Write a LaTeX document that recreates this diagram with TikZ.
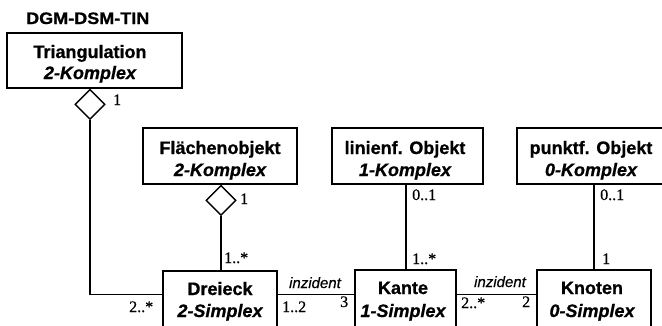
\documentclass[tikz,border=0pt]{standalone}
\usepackage{fontspec}
\usepackage{graphicx}
\setmainfont{Liberation Serif}
\newfontfamily\hv{Liberation Sans}[BoldFeatures={FakeBold=0.8},BoldItalicFeatures={FakeBold=0.8},ItalicFeatures={FakeBold=0.4}]
\newfontfamily\mul{Liberation Serif}[FakeBold=0.6]
\usetikzlibrary{shapes.geometric}
\tikzset{
  umlbox/.style={draw, line width=1.4pt, inner sep=0pt},
  agg/.style={diamond, draw, line width=1.3pt, fill=white, inner sep=0pt, minimum width=30pt, minimum height=30pt, aspect=1},
  conn/.style={line width=1.3pt},
  bname/.style={font=\hv\bfseries\fontsize{18}{20}\selectfont, anchor=base, inner sep=0pt},
  bsub/.style={font=\hv\bfseries\itshape\fontsize{18}{20}\selectfont, anchor=base, inner sep=0pt},
  mult/.style={font=\mul\fontsize{16}{17}\selectfont, anchor=base west, inner sep=0pt},
  rolel/.style={font=\hv\itshape\fontsize{15}{16}\selectfont, anchor=base, inner sep=0pt},
}
\begin{document}
\begin{tikzpicture}[x=1pt,y=-1pt]
\useasboundingbox (0,0) rectangle (662,325);
\clip (0,0) rectangle (662,325);
\fill[white] (0,0) rectangle (662,325);

% title
\node[font=\hv\bfseries\fontsize{17.5}{19}\selectfont, anchor=base west, inner sep=0pt] (title) at (26,24) {\scalebox{1.03}[0.95]{DGM-DSM-TIN}};

% boxes
\node[umlbox, minimum width=175pt, minimum height=55pt] (tri) at (94.5,60.5) {};
\node[umlbox, minimum width=154pt, minimum height=56pt] (fla) at (220,156) {};
\node[umlbox, minimum width=151pt, minimum height=56pt] (lin) at (407.5,156) {};
\node[umlbox, minimum width=150pt, minimum height=56pt] (pun) at (592,156) {};
\node[umlbox, minimum width=114pt, minimum height=80pt] (dre) at (220,311) {};
\node[umlbox, minimum width=101pt, minimum height=80pt] (kan) at (405.5,310) {};
\node[umlbox, minimum width=114pt, minimum height=80pt] (kno) at (594,310) {};

% box texts
\node[bname] (t1a) at (90,58) {Triangulation};
\node[bsub]  (t1b) at (90,79) {2-Komplex};
\node[bname] (t2a) at (220,154) {Flächenobjekt};
\node[bsub]  (t2b) at (220,176) {2-Komplex};
\node[bname] (t3a) at (405,154) {linienf. Objekt};
\node[bsub]  (t3b) at (405,176) {1-Komplex};
\node[bname] (t4a) at (591,154) {punktf. Objekt};
\node[bsub]  (t4b) at (591,176) {0-Komplex};
\node[bname] (t5a) at (220,295) {Dreieck};
\node[bsub]  (t5b) at (220,317) {2-Simplex};
\node[bname] (t6a) at (403,294) {Kante};
\node[bsub]  (t6b) at (403,317) {1-Simplex};
\node[bname] (t7a) at (592,294) {Knoten};
\node[bsub]  (t7b) at (592,317) {0-Simplex};

% aggregation diamonds
\node[agg, anchor=north] (d1) at (tri.south -| 90,0) {};
\node[agg, anchor=north] (d2) at (fla.south -| 221,0) {};

% connectors
\draw[conn] (d1.south) |- ([yshift=-24pt]dre.north west);
\draw[conn] (d2.south) -- (d2.south |- dre.north);
\draw[conn] ([yshift=-24pt]dre.north east) -- ([yshift=-25pt]kan.north west);
\draw[conn] ([yshift=-25pt]kan.north east) -- ([yshift=-25pt]kno.north west);
\draw[conn] (lin.south -| 406,0) -- (kan.north -| 406,0);
\draw[conn] (pun.south -| 594,0) -- (kno.north -| 594,0);

% multiplicities
\node[mult] (m1) at (113,105) {1};
\node[mult] (m2) at (129,312) {2..*};
\node[mult] (m3) at (240,204) {1};
\node[mult] (m4) at (224,263) {1..*};
\node[mult] (m5) at (282,312) {1..2};
\node[mult] (m6) at (340,307) {3};
\node[mult] (m7) at (461,308) {2..*};
\node[mult] (m8) at (522,307) {2};
\node[mult] (m9) at (412,200) {0..1};
\node[mult] (m10) at (412,264) {1..*};
\node[mult] (m11) at (600,200) {0..1};
\node[mult] (m12) at (602,264) {1};

% role labels
\node[rolel] (r1) at (315,288) {inzident};
\node[rolel] (r2) at (500,287) {inzident};
\end{tikzpicture}
\end{document}
